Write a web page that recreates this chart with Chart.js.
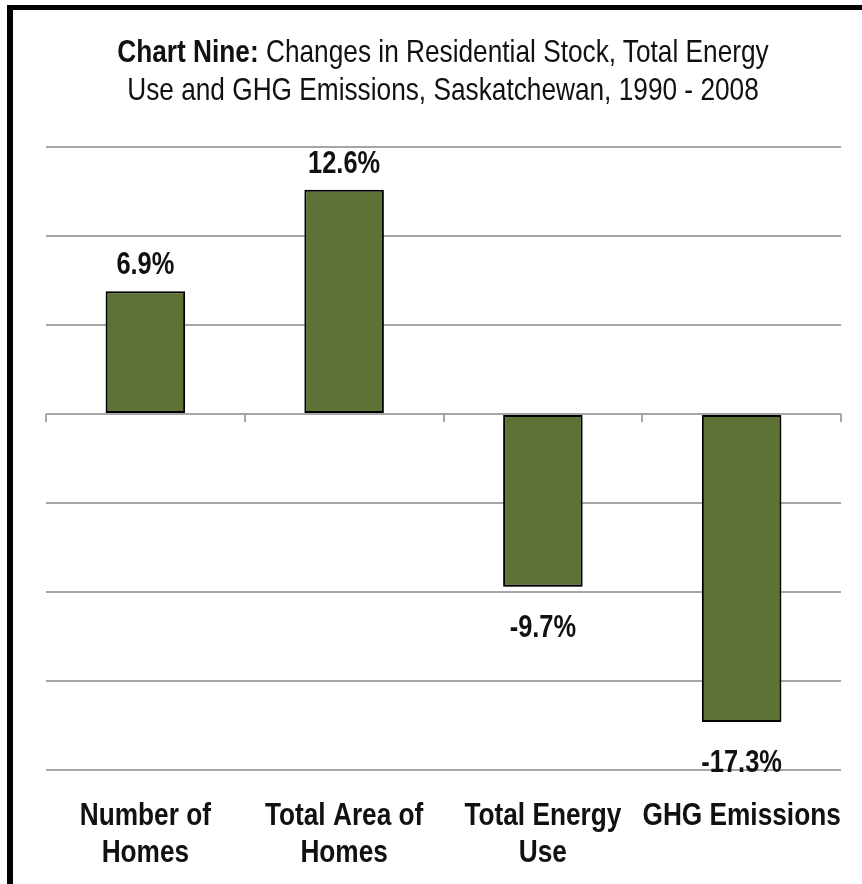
<!DOCTYPE html>
<html>
<head>
<meta charset="utf-8">
<script src="https://cdn.jsdelivr.net/npm/chart.js@4.4.1/dist/chart.umd.min.js"></script>
<style>
  html, body { margin: 0; padding: 0; background: #fff; }
  #wrap { position: relative; width: 862px; height: 884px; overflow: hidden; }
  #frame {
    position: absolute; left: 7px; top: 5px; right: -20px; bottom: -20px;
    border-left: 6px solid #000; border-top: 5px solid #000;
  }
  #title {
    position: absolute; left: 0; width: 886px; top: 32px;
    text-align: center; font-family: "Liberation Sans", Arial, sans-serif;
    font-size: 32px; line-height: 38px; color: #111;
    transform: scaleX(0.82); transform-origin: 443px 0;
  }
  #title b { font-weight: bold; }
  canvas { position: absolute; left: 0; top: 0; }
</style>
</head>
<body>
<div id="wrap">
  <canvas id="chart" width="862" height="884"></canvas>
  <div id="frame"></div>
  <div id="title"><b>Chart Nine:</b> Changes in Residential Stock, Total Energy<br>Use and GHG Emissions, Saskatchewan, 1990 - 2008</div>
</div>
<script>
"use strict";

// chart data
const categories = [
  ["Number of", "Homes"],
  ["Total Area of", "Homes"],
  ["Total Energy", "Use"],
  ["GHG Emissions"]
];
const changes = [6.9, 12.6, -9.7, -17.3];
const yMin = -20;
const yMax = 15;
const yStep = 5;

const fontFamily = '"Liberation Sans", Arial, sans-serif';
// no narrow font here, so squeeze the regular one
const squeeze = 0.82;

function narrowText(ctx, text, x, y) {
  ctx.save();
  ctx.translate(x, y);
  ctx.scale(squeeze, 1);
  ctx.fillText(text, 0, 0);
  ctx.restore();
}

// drop shadow under the bars
const barShadow = {
  id: "barShadow",
  beforeDatasetDraw(chart) {
    const ctx = chart.ctx;
    ctx.save();
    ctx.shadowColor = "rgba(0,0,0,0.4)";
    ctx.shadowBlur = 7;
    ctx.shadowOffsetY = 4;
  },
  afterDatasetDraw(chart) {
    chart.ctx.restore();
  }
};

// little tick marks hanging under the zero line
const zeroTicks = {
  id: "zeroTicks",
  beforeDatasetsDraw(chart) {
    const ctx = chart.ctx;
    const x = chart.scales.x;
    const y0 = chart.scales.y.getPixelForValue(0);
    ctx.save();
    ctx.strokeStyle = "#a6a6a6";
    ctx.lineWidth = 2;
    for (let i = 0; i <= categories.length; i++) {
      const px = Math.round(x.getPixelForValue(i - 0.5));
      ctx.beginPath();
      ctx.moveTo(px, y0);
      ctx.lineTo(px, y0 + 8);
      ctx.stroke();
    }
    ctx.restore();
  }
};

// percent labels at the end of each bar + category names under the plot
const textLabels = {
  id: "textLabels",
  afterDatasetsDraw(chart) {
    const ctx = chart.ctx;
    const bars = chart.getDatasetMeta(0).data;
    ctx.save();
    ctx.fillStyle = "#111";
    ctx.textAlign = "center";
    ctx.textBaseline = "alphabetic";
    ctx.font = "bold 31px " + fontFamily;
    bars.forEach((bar, i) => {
      const v = changes[i];
      const y = v >= 0 ? bar.y - 17 : bar.y + 50;
      narrowText(ctx, v.toFixed(1) + "%", bar.x, y);
    });

    ctx.font = "bold 32px " + fontFamily;
    const xs = chart.scales.x;
    const top = chart.chartArea.bottom;
    categories.forEach((lines, i) => {
      const cx = xs.getPixelForValue(i);
      lines.forEach((line, j) => {
        narrowText(ctx, line, cx, top + 55 + j * 37);
      });
    });
    ctx.restore();
  }
};

const data = {
  labels: categories,
  datasets: [
    {
      data: changes,
      backgroundColor: "#5f7236",
      borderColor: "#000",
      borderWidth: 2,
      borderSkipped: false,
      barPercentage: 0.4,
      categoryPercentage: 1
    }
  ]
};

const config = {
  type: "bar",
  data: data,
  options: {
    responsive: false,
    animation: false,
    layout: { padding: { left: 46, right: 21, top: 147, bottom: 114 } },
    plugins: { legend: { display: false }, tooltip: { enabled: false } },
    scales: {
      x: {
        grid: { display: false, drawTicks: false },
        border: { display: false },
        ticks: { display: false }
      },
      y: {
        min: yMin,
        max: yMax,
        ticks: { display: false, stepSize: yStep },
        grid: { color: "#a6a6a6", lineWidth: 2, drawTicks: false },
        border: { display: false }
      }
    }
  },
  plugins: [zeroTicks, barShadow, textLabels]
};

const myChart = new Chart(document.getElementById("chart"), config);
</script>
</body>
</html>
